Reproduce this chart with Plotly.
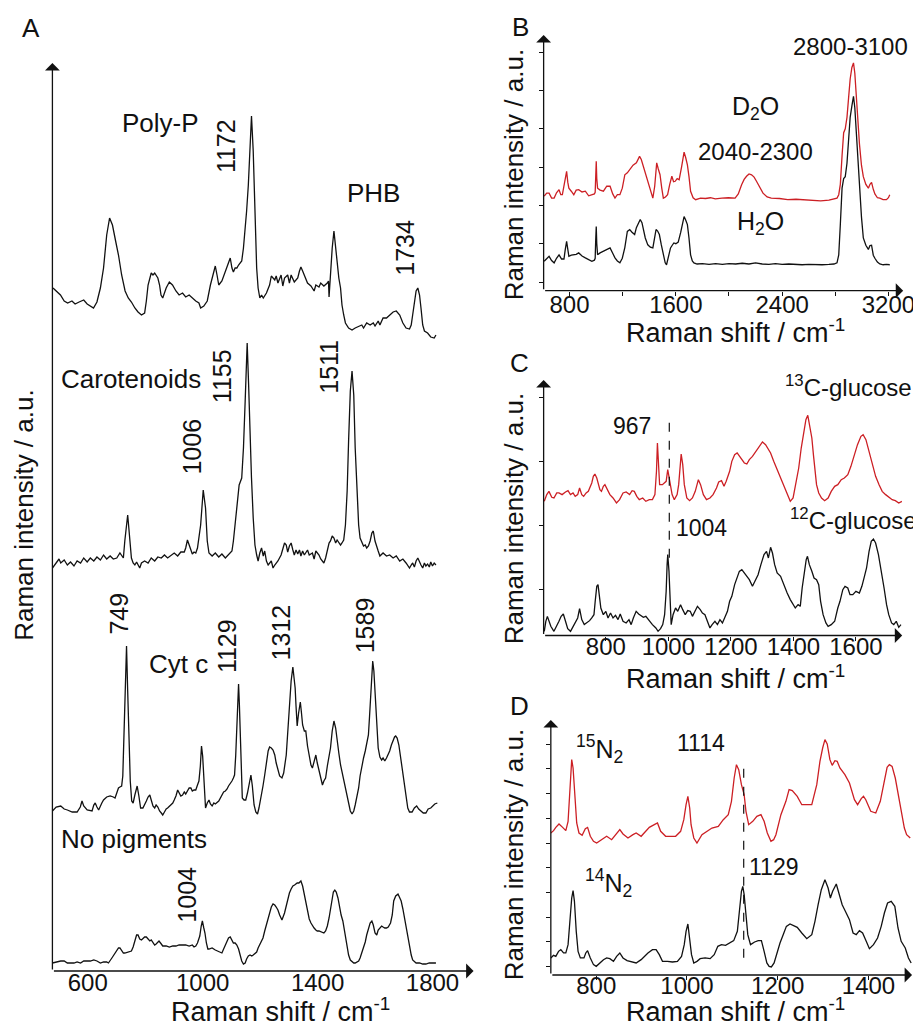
import plotly.graph_objects as go

W, H = 921, 1025
FONT = "Liberation Sans, Arial, sans-serif"
BLACK = "#111111"
RED = "#cc1f24"

# ---------------- Panel A (Raman shift cm-1, intensity a.u., stacked) ----------------
polyp = [(479,68.3),(490,68.0),(505,67.6),(518,67.0),(530,66.8),(545,67.0),(556,66.7),(570,66.9),(586,67.1),(598,66.7),
 (609,66.5),(620,66.3),(632,66.9),(644,68.3),(655,70.3),(666,73.6),(676,75.3),(686,74.6),(697,73.0),(707,71.6),
 (718,69.6),(730,68.0),(741,67.3),(752,66.9),(764,66.3),(775,65.9),(787,65.6),(798,65.8),(804,67.0),(810,68.6),
 (821,69.8),(827,69.6),(833,69.8),(844,69.3),(850,68.6),(855,67.6),(861,67.3),(873,68.3),(884,68.9),(895,68.6),
 (907,68.0),(918,67.6),(930,67.8),(941,67.4),(953,67.6),(964,67.3),(976,67.0),(987,66.8),(993,66.3),(1004,66.5),
 (1016,67.0),(1027,68.6),(1039,69.9),(1044,70.5),(1050,69.6),(1056,68.6),(1067,69.0),(1079,70.0),(1090,70.9),(1096,71.3),
 (1102,70.3),(1107,69.9),(1113,70.3),(1119,70.3),(1125,70.6),(1136,71.0),(1142,72.3),(1148,74.0),(1153,76.0),(1159,78.6),
 (1165,83.0),(1170,85.5),(1176,82.0),(1182,75.0),(1188,70.3),(1193,68.3),(1199,67.3),(1205,67.6),(1211,67.3),(1222,67.8),
 (1233,68.6),(1239,69.5),(1251,69.1),(1256,69.5),(1262,68.8),(1273,69.6),(1279,68.5),(1285,69.3),(1296,69.6),(1302,68.8),
 (1308,69.6),(1319,68.9),(1331,69.3),(1337,70.0),(1342,70.4),(1348,70.0),(1354,69.6),(1365,68.8),(1377,68.5),(1388,68.0),
 (1394,68.6),(1405,68.4),(1411,68.8),(1422,68.5),(1434,68.8),(1438,69.0),(1440,67.4),(1445,70.0),(1451,72.3),(1457,74.0),
 (1463,72.5),(1468,70.6),(1474,69.3),(1480,68.3),(1485,66.6),(1491,65.6),(1497,64.8),(1508,64.3),(1520,64.1),(1531,64.3),
 (1543,64.5),(1554,64.6),(1560,64.3),(1571,64.8),(1583,64.6),(1594,64.8),(1600,64.5),(1611,65.0),(1617,64.6),(1628,65.3),
 (1640,65.3),(1651,65.6),(1663,65.9),(1674,66.0),(1686,65.6),(1697,64.8),(1708,64.3),(1720,64.2),(1726,64.6),(1731,65.6),
 (1737,67.0),(1743,68.0),(1749,68.3),(1755,67.6),(1760,66.3),(1766,64.6),(1772,64.0),(1783,63.8),(1794,63.4),(1806,63.3),(1812,63.6)]

carot = [(477,40.3),(490,40.8),(500,41.2),(506,40.8),(518,41.1),(529,40.6),(540,40.9),(552,40.5),(563,41.0),(575,40.8),
 (586,41.3),(598,40.9),(609,41.3),(621,41.0),(632,41.4),(644,41.1),(655,41.6),(666,41.2),(678,41.5),(689,41.2),
 (701,41.3),(712,41.8),(718,41.6),(724,41.3),(729,43.0),(735,45.0),(739,45.6),(743,44.3),(747,42.6),(752,41.3),
 (758,40.8),(764,40.6),(770,40.9),(781,40.3),(787,40.8),(798,41.0),(810,40.8),(821,41.3),(833,41.0),(844,41.4),
 (856,41.3),(867,41.6),(878,41.3),(890,41.6),(901,41.8),(913,41.5),(924,41.9),(936,41.9),(941,42.3),(947,43.1),
 (953,42.6),(959,42.1),(964,41.7),(970,41.9),(976,41.8),(982,42.3),(993,44.6),(1002,48.1),(1010,46.3),(1016,43.0),
 (1022,41.8),(1033,41.5),(1044,41.8),(1056,41.4),(1067,41.7),(1079,41.3),(1090,41.6),(1102,42.0),(1107,43.0),(1113,44.6),
 (1119,46.3),(1127,48.6),(1136,49.3),(1142,52.3),(1148,57.0),(1155,62.8),(1160,58.6),(1165,53.0),(1170,49.3),(1176,45.3),
 (1182,42.6),(1188,41.6),(1193,41.0),(1199,41.8),(1205,42.3),(1211,41.5),(1216,42.0),(1222,41.0),(1228,40.6),(1239,41.0),
 (1245,40.3),(1251,40.6),(1262,41.0),(1273,41.6),(1285,42.8),(1291,42.6),(1296,41.9),(1302,42.5),(1308,42.8),(1314,42.1),
 (1319,41.6),(1325,42.1),(1331,41.7),(1337,42.1),(1342,41.5),(1348,42.0),(1354,41.6),(1365,42.1),(1371,41.6),(1382,41.8),
 (1388,41.2),(1394,42.0),(1405,41.6),(1411,41.2),(1422,40.8),(1428,41.3),(1434,42.1),(1440,42.8),(1445,43.0),(1451,43.5),
 (1457,43.3),(1463,42.8),(1468,43.1),(1474,42.8),(1480,42.6),(1485,42.8),(1491,43.1),(1497,44.6),(1503,48.0),(1508,53.0),
 (1514,58.0),(1520,60.0),(1526,57.6),(1531,52.3),(1537,47.6),(1543,44.6),(1548,43.3),(1554,42.8),(1560,42.5),(1566,42.6),
 (1571,42.3),(1577,42.5),(1583,43.0),(1589,43.8),(1594,44.0),(1600,43.0),(1606,42.3),(1611,42.0),(1617,41.5),(1628,41.8),
 (1640,41.5),(1651,41.6),(1663,41.3),(1674,41.5),(1686,41.0),(1697,41.2),(1708,40.8),(1714,40.5),(1720,40.3),(1726,40.6),
 (1731,40.8),(1737,40.4),(1743,41.0),(1749,41.3),(1755,40.8),(1760,40.6),(1766,40.3),(1772,40.8),(1777,40.5),(1783,40.7),
 (1789,40.4),(1794,40.9),(1800,40.5),(1806,40.8),(1812,40.6)]

cytc = [(477,16.0),(490,16.4),(506,16.5),(518,16.2),(529,16.1),(546,15.9),(563,15.9),(574,16.4),(580,17.0),(586,16.5),
 (598,16.1),(609,16.0),(615,16.0),(621,16.6),(626,16.8),(632,16.4),(638,16.1),(649,16.8),(655,17.1),(666,17.4),
 (678,17.5),(689,17.4),(695,17.3),(701,17.8),(707,18.3),(712,18.4),(718,18.5),(722,19.5),(726,23.0),(731,28.5),
 (735,32.5),(739,28.0),(743,23.0),(748,19.0),(753,17.0),(758,16.8),(764,17.6),(772,18.5),(778,17.5),(784,16.3),
 (792,16.3),(798,16.6),(804,17.0),(810,17.4),(816,17.6),(821,17.1),(827,16.5),(833,16.3),(838,16.6),(844,16.4),
 (850,16.0),(856,15.8),(861,15.6),(867,15.9),(873,16.2),(878,16.3),(890,16.6),(896,16.8),(901,17.1),(907,17.5),
 (913,18.1),(918,17.8),(924,17.5),(930,17.6),(936,17.9),(941,17.7),(947,18.0),(953,18.3),(959,18.3),(964,18.0),
 (970,18.1),(976,18.1),(982,18.6),(987,19.0),(992,20.5),(996,22.5),(1000,21.5),(1004,19.8),(1007,17.5),(1010,16.3),
 (1016,16.8),(1022,17.1),(1027,16.7),(1033,16.5),(1039,16.8),(1044,16.7),(1056,17.0),(1062,17.3),(1067,17.6),(1073,17.9),
 (1079,18.0),(1085,18.2),(1090,18.5),(1096,18.7),(1102,19.0),(1107,19.3),(1111,19.6),(1115,21.5),(1119,24.6),(1122,27.0),
 (1125,28.7),(1128,26.5),(1130,24.6),(1134,20.5),(1138,17.3),(1144,17.1),(1150,17.1),(1156,17.8),(1162,18.9),(1168,19.6),
 (1173,18.5),(1179,16.6),(1185,15.9),(1191,15.7),(1196,16.3),(1205,17.6),(1210,18.5),(1216,19.6),(1222,20.8),(1228,22.0),
 (1233,22.4),(1239,22.3),(1245,22.1),(1251,21.6),(1256,20.8),(1262,20.0),(1268,19.5),(1276,19.3),(1282,19.8),(1291,21.6),
 (1296,24.0),(1302,27.0),(1308,29.0),(1314,30.4),(1318,29.6),(1322,28.3),(1325,26.5),(1329,24.5),(1334,25.8),(1340,26.9),
 (1344,25.8),(1348,24.6),(1354,24.0),(1359,24.0),(1365,22.5),(1371,21.3),(1377,20.6),(1382,20.3),(1388,21.0),(1394,21.6),
 (1399,20.8),(1405,20.0),(1411,19.2),(1417,18.6),(1422,19.0),(1428,19.3),(1434,20.5),(1440,21.5),(1445,22.3),(1451,24.0),
 (1457,25.0),(1463,24.3),(1468,23.0),(1474,21.8),(1480,20.6),(1486,19.8),(1491,19.0),(1497,18.3),(1503,17.3),(1508,16.6),
 (1514,16.0),(1520,15.7),(1526,16.0),(1531,16.6),(1537,17.3),(1543,18.3),(1548,19.5),(1554,20.6),(1560,21.3),(1566,22.0),
 (1571,22.8),(1577,23.6),(1581,25.5),(1585,28.0),(1589,30.0),(1592,31.0),(1596,30.0),(1600,28.0),(1605,25.0),(1611,22.3),
 (1617,21.4),(1623,21.1),(1628,21.3),(1634,21.0),(1640,21.3),(1646,21.6),(1651,22.0),(1657,22.6),(1663,23.1),(1668,23.4),
 (1672,23.5),(1677,23.3),(1683,22.6),(1688,21.6),(1694,20.3),(1700,19.0),(1706,17.5),(1714,16.3),(1720,15.9),(1729,15.9),
 (1737,16.3),(1745,16.5),(1752,16.2),(1760,16.0),(1768,15.8),(1777,15.8),(1785,16.2),(1794,16.3),(1800,16.5),(1808,16.7),(1817,16.8)]

nopig = [(477,0.8),(490,0.9),(506,1.0),(518,1.0),(529,0.8),(540,0.8),(552,0.8),(563,0.9),(575,0.8),(586,1.0),
 (598,1.0),(609,1.0),(621,1.1),(632,1.0),(644,0.8),(655,0.9),(666,0.9),(672,0.8),(684,1.3),(695,1.8),
 (701,2.1),(707,2.3),(712,2.3),(718,2.0),(724,1.8),(729,1.8),(741,1.9),(752,2.0),(758,2.4),(764,3.0),
 (770,3.6),(775,3.6),(781,3.2),(787,3.1),(793,3.3),(798,3.4),(804,3.4),(810,3.2),(816,3.0),(821,3.1),
 (827,2.9),(833,2.6),(838,2.7),(844,2.9),(848,3.0),(856,2.7),(861,2.5),(873,2.5),(884,2.4),(896,2.5),
 (907,2.5),(918,2.6),(930,2.6),(941,2.6),(953,2.5),(964,2.6),(970,2.4),(976,2.5),(982,2.8),(990,3.5),
 (995,4.5),(999,5.0),(1004,4.3),(1008,3.8),(1013,2.8),(1018,2.2),(1022,2.2),(1033,2.3),(1044,2.1),(1056,1.9),
 (1067,1.8),(1073,2.2),(1079,2.6),(1085,3.0),(1090,3.3),(1096,3.4),(1102,3.1),(1107,2.8),(1113,2.8),(1119,2.6),
 (1125,2.2),(1130,1.6),(1136,1.0),(1142,0.7),(1148,0.8),(1153,1.2),(1159,1.5),(1165,1.6),(1171,1.5),(1176,1.6),
 (1182,1.8),(1188,1.9),(1193,2.3),(1199,2.7),(1205,3.0),(1210,3.3),(1216,4.0),(1222,4.7),(1228,5.3),(1233,5.9),
 (1239,6.4),(1245,6.7),(1251,6.6),(1256,6.4),(1262,6.1),(1268,5.6),(1276,5.1),(1285,5.8),(1291,6.6),(1296,7.2),
 (1302,7.8),(1308,8.2),(1314,8.5),(1320,8.6),(1325,8.7),(1329,8.8),(1335,8.8),(1342,9.0),(1348,8.5),(1354,7.6),
 (1359,6.8),(1365,5.8),(1371,5.2),(1377,4.8),(1382,4.5),(1388,4.3),(1394,4.1),(1399,4.0),(1405,4.0),(1411,3.9),
 (1417,3.8),(1422,3.8),(1428,4.0),(1434,4.5),(1440,5.3),(1445,6.3),(1451,7.3),(1455,7.9),(1460,8.1),(1465,7.9),
 (1471,7.3),(1477,6.3),(1482,5.6),(1488,5.0),(1493,4.1),(1499,3.0),(1503,2.2),(1508,1.6),(1514,1.1),(1520,0.9),
 (1526,0.8),(1531,0.8),(1537,0.9),(1543,1.0),(1548,1.3),(1554,1.8),(1560,2.3),(1566,2.9),(1571,3.6),(1577,4.3),
 (1583,4.8),(1589,5.0),(1594,4.6),(1600,3.8),(1606,3.6),(1611,4.1),(1617,4.3),(1623,4.5),(1628,4.4),(1634,4.3),
 (1640,4.3),(1646,4.4),(1654,4.8),(1660,5.6),(1665,7.0),(1672,7.5),(1680,7.7),(1686,7.4),(1691,7.0),(1697,6.2),
 (1703,5.2),(1708,4.3),(1714,3.2),(1720,2.2),(1726,1.6),(1731,1.1),(1737,0.9),(1743,0.8),(1755,0.8),(1766,0.7),
 (1777,0.7),(1789,0.8),(1800,0.8),(1812,0.8)]

# ---------------- Panel B ----------------
d2o = [(609,2.24),(628,2.32),(646,2.32),(665,2.19),(684,2.19),(702,2.33),(721,2.41),(734,2.28),(746,2.28),(762,2.60),
 (778,2.89),(787,2.60),(795,2.45),(813,2.37),(832,2.28),(850,2.40),(869,2.41),(894,2.35),(919,2.37),(944,2.25),
 (968,2.28),(987,2.30),(993,2.34),(997,2.80),(1001,3.15),(1005,2.70),(1011,2.45),(1030,2.40),(1055,2.37),(1080,2.50),
 (1105,2.50),(1125,2.30),(1142,2.19),(1160,2.28),(1179,2.28),(1197,2.45),(1216,2.80),(1235,2.85),(1253,2.93),(1278,3.05),
 (1303,3.11),(1327,3.28),(1340,3.20),(1352,3.06),(1370,2.80),(1389,2.58),(1408,2.35),(1427,2.19),(1441,2.50),(1456,3.11),
 (1468,2.95),(1481,2.80),(1494,2.45),(1506,2.19),(1522,2.22),(1538,2.28),(1554,2.55),(1570,2.76),(1583,2.62),(1595,2.63),
 (1610,2.70),(1625,2.67),(1643,3.00),(1662,3.39),(1674,3.25),(1687,3.06),(1699,2.75),(1711,2.37),(1730,2.20),(1749,2.15),
 (1786,2.19),(1823,2.18),(1860,2.20),(1897,2.17),(1947,2.19),(1996,2.20),(2046,2.19),(2070,2.30),(2095,2.54),(2114,2.68),
 (2132,2.76),(2151,2.82),(2170,2.80),(2189,2.74),(2207,2.63),(2232,2.45),(2256,2.32),(2287,2.22),(2318,2.19),(2380,2.18),
 (2442,2.15),(2504,2.16),(2566,2.15),(2628,2.14),(2690,2.12),(2752,2.14),(2813,2.19),(2826,2.28),(2838,2.55),(2851,3.30),
 (2863,3.90),(2875,4.00),(2888,4.30),(2900,4.80),(2912,5.30),(2925,5.60),(2937,5.72),(2947,5.45),(2957,4.90),(2970,4.10),
 (2982,3.60),(2997,3.05),(3011,2.75),(3030,2.55),(3049,2.45),(3061,2.55),(3073,2.60),(3086,2.42),(3098,2.30),(3117,2.20),
 (3135,2.19),(3160,2.15),(3185,2.15),(3200,2.20),(3210,2.28)]

h2o = [(609,0.54),(628,0.62),(646,0.67),(665,0.56),(684,0.50),(702,0.62),(721,0.71),(740,0.60),(758,0.60),(768,0.85),
 (778,1.06),(787,0.85),(795,0.67),(813,0.70),(832,0.71),(850,0.72),(869,0.76),(894,0.68),(919,0.63),(944,0.58),
 (968,0.54),(987,0.57),(993,0.62),(997,1.10),(1001,1.45),(1005,1.00),(1011,0.71),(1030,0.76),(1055,0.80),(1080,0.84),
 (1105,0.89),(1125,0.75),(1142,0.63),(1160,0.55),(1179,0.50),(1197,0.62),(1216,0.90),(1235,1.32),(1253,1.37),(1270,1.30),
 (1290,1.24),(1303,1.42),(1318,1.54),(1332,1.63),(1345,1.55),(1352,1.41),(1370,1.15),(1389,0.97),(1408,0.91),(1427,0.89),
 (1441,1.15),(1451,1.37),(1463,1.33),(1476,1.24),(1490,0.98),(1506,0.71),(1520,0.50),(1530,0.45),(1545,0.70),(1560,0.89),
 (1573,0.96),(1585,1.02),(1600,1.00),(1618,1.04),(1637,1.30),(1650,1.55),(1662,1.71),(1674,1.62),(1687,1.50),(1699,1.15),
 (1711,0.71),(1724,0.55),(1736,0.50),(1760,0.47),(1800,0.48),(1850,0.46),(1900,0.48),(1950,0.46),(2000,0.48),(2050,0.47),
 (2100,0.49),(2150,0.47),(2200,0.50),(2250,0.47),(2300,0.46),(2350,0.48),(2400,0.46),(2450,0.47),(2500,0.46),(2550,0.45),
 (2600,0.46),(2650,0.45),(2700,0.45),(2752,0.46),(2790,0.47),(2813,0.50),(2826,0.71),(2838,1.50),(2851,2.45),(2863,2.70),
 (2875,2.75),(2888,3.10),(2900,3.80),(2912,4.30),(2925,4.60),(2937,4.85),(2947,4.55),(2957,4.00),(2970,3.10),(2982,2.37),
 (2997,1.70),(3011,1.15),(3030,0.96),(3049,0.85),(3061,0.95),(3073,0.96),(3086,0.70),(3098,0.62),(3117,0.52),(3135,0.47),
 (3160,0.45),(3185,0.46),(3210,0.45)]

# ---------------- Panel C ----------------
c13 = [(603,2.379),(611,2.483),(618,2.534),(627,2.441),(634,2.431),(643,2.509),(650,2.509),(660,2.483),(671,2.524),(679,2.545),
 (687,2.483),(695,2.509),(702,2.457),(710,2.483),(716,2.586),(723,2.483),(729,2.457),(737,2.509),(744,2.534),(750,2.612),
 (755,2.664),(760,2.768),(765,2.804),(771,2.742),(776,2.638),(781,2.560),(786,2.534),(792,2.612),(797,2.638),(804,2.560),
 (813,2.483),(823,2.431),(834,2.353),(844,2.405),(855,2.509),(865,2.524),(876,2.483),(884,2.545),(891,2.534),(899,2.457),
 (907,2.405),(918,2.431),(928,2.379),(939,2.405),(949,2.405),(957,2.483),(962,2.846),(965,3.286),(968,2.949),(972,2.638),
 (981,2.638),(988,2.664),(993,2.690),(998,2.871),(1005,2.690),(1012,2.483),(1019,2.405),(1028,2.483),(1033,2.638),(1037,2.949),
 (1041,3.115),(1046,2.949),(1051,2.638),(1059,2.431),(1068,2.389),(1077,2.431),(1086,2.534),(1096,2.716),(1103,2.638),(1112,2.483),
 (1122,2.405),(1133,2.431),(1143,2.483),(1154,2.586),(1161,2.680),(1170,2.700),(1178,2.612),(1185,2.690),(1196,2.846),(1203,3.001),
 (1212,3.105),(1220,3.131),(1227,3.079),(1235,3.027),(1243,2.975),(1251,2.960),(1259,3.027),(1269,3.079),(1280,3.157),(1290,3.219),
 (1301,3.302),(1311,3.260),(1318,3.208),(1327,3.131),(1337,3.001),(1348,2.871),(1359,2.742),(1369,2.638),(1380,2.509),(1390,2.379),
 (1399,2.431),(1406,2.612),(1417,2.897),(1425,3.208),(1432,3.442),(1440,3.649),(1446,3.716),(1451,3.597),(1459,3.364),(1464,3.105),
 (1469,2.846),(1474,2.638),(1481,2.509),(1490,2.431),(1500,2.389),(1511,2.431),(1521,2.534),(1532,2.612),(1542,2.638),(1553,2.716),
 (1563,2.742),(1574,2.794),(1584,2.923),(1595,3.105),(1605,3.260),(1616,3.390),(1623,3.416),(1632,3.338),(1642,3.157),(1653,2.949),
 (1663,2.768),(1674,2.638),(1684,2.534),(1695,2.483),(1705,2.441),(1716,2.405),(1726,2.389),(1737,2.353),(1747,2.379)]

c12 = [(603,0.357),(608,0.513),(613,0.590),(618,0.513),(624,0.435),(634,0.357),(643,0.435),(650,0.513),(657,0.590),(664,0.627),
 (671,0.513),(678,0.399),(687,0.357),(695,0.435),(702,0.487),(710,0.565),(716,0.710),(723,0.539),(731,0.461),(739,0.487),
 (748,0.523),(755,0.565),(762,0.616),(766,0.824),(771,1.057),(775,1.083),(779,0.927),(784,0.720),(792,0.616),(800,0.668),
 (807,0.565),(815,0.642),(823,0.565),(831,0.606),(839,0.539),(846,0.627),(855,0.513),(865,0.487),(874,0.539),(881,0.461),
 (888,0.565),(897,0.668),(905,0.627),(912,0.606),(920,0.575),(928,0.590),(939,0.513),(949,0.461),(960,0.409),(967,0.357),
 (975,0.399),(982,0.461),(988,0.616),(993,0.979),(996,1.394),(998,1.550),(1002,1.290),(1005,0.824),(1009,0.461),(1015,0.616),
 (1023,0.720),(1030,0.668),(1039,0.772),(1046,0.694),(1054,0.616),(1062,0.679),(1070,0.668),(1077,0.590),(1086,0.694),(1093,0.746),
 (1102,0.694),(1109,0.642),(1117,0.616),(1126,0.513),(1133,0.409),(1140,0.461),(1149,0.513),(1157,0.461),(1165,0.539),(1173,0.487),
 (1180,0.565),(1189,0.668),(1196,0.824),(1203,0.902),(1212,1.083),(1220,1.213),(1227,1.290),(1235,1.316),(1243,1.264),(1251,1.213),
 (1259,1.161),(1269,1.057),(1278,1.161),(1287,1.238),(1296,1.394),(1306,1.550),(1314,1.601),(1320,1.498),(1327,1.664),(1333,1.575),
 (1340,1.394),(1348,1.264),(1359,1.213),(1369,1.083),(1380,0.953),(1390,0.850),(1399,0.772),(1406,0.720),(1415,0.772),(1422,0.746),
 (1428,1.031),(1435,1.290),(1441,1.472),(1445,1.524),(1451,1.394),(1459,1.290),(1466,1.187),(1474,1.161),(1481,1.083),(1487,0.824),
 (1495,0.616),(1504,0.487),(1511,0.435),(1521,0.461),(1532,0.513),(1542,0.720),(1549,0.824),(1558,1.005),(1565,1.057),(1574,1.031),
 (1581,0.927),(1590,0.927),(1600,0.979),(1611,0.953),(1619,1.057),(1626,1.187),(1634,1.342),(1642,1.601),(1649,1.757),(1656,1.793),
 (1663,1.731),(1672,1.550),(1680,1.342),(1690,1.031),(1698,0.772),(1705,0.616),(1714,0.487),(1721,0.461),(1729,0.513),(1737,0.419),(1744,0.461)]

# ---------------- Panel D ----------------
n15 = [(700,2.202),(706,2.249),(711,2.316),(718,2.384),(726,2.316),(733,2.249),(738,2.438),(742,2.976),(746,3.684),(749,3.515),
 (753,2.909),(757,2.404),(762,2.202),(769,2.155),(776,2.290),(781,2.316),(787,2.135),(794,2.034),(801,2.000),(812,2.067),
 (823,2.135),(834,2.067),(845,2.202),(852,2.269),(859,2.182),(870,2.101),(881,2.168),(888,2.202),(899,2.135),(910,2.236),
 (917,2.316),(928,2.370),(935,2.404),(942,2.236),(953,2.135),(964,2.135),(975,2.135),(986,2.236),(993,2.471),(998,2.774),
 (1002,2.943),(1006,2.707),(1009,2.370),(1015,2.101),(1022,2.000),(1033,2.168),(1044,2.236),(1055,2.303),(1069,2.337),(1080,2.471),
 (1091,2.572),(1098,2.842),(1104,3.313),(1109,3.582),(1114,3.481),(1120,3.178),(1126,2.976),(1130,2.640),(1136,2.370),(1145,2.438),
 (1154,2.539),(1163,2.572),(1170,2.438),(1177,2.202),(1185,2.034),(1191,2.067),(1196,2.168),(1207,2.572),(1218,2.842),(1225,3.077),
 (1232,3.057),(1243,2.943),(1253,2.774),(1264,2.774),(1275,2.774),(1286,3.178),(1293,3.650),(1299,3.919),(1304,4.088),(1309,4.000),
 (1315,3.684),(1320,3.569),(1326,3.663),(1331,3.650),(1337,3.515),(1348,3.380),(1358,3.212),(1369,2.875),(1376,2.774),(1384,2.896),
 (1389,2.943),(1394,2.875),(1405,2.640),(1416,2.606),(1426,2.842),(1434,3.212),(1441,3.529),(1446,3.582),(1452,3.549),(1459,3.313),
 (1466,2.976),(1474,2.572),(1479,2.303),(1484,2.168),(1492,2.101)]

n14 = [(700,-0.323),(706,-0.269),(711,-0.290),(717,-0.189),(722,-0.155),(728,-0.222),(733,-0.222),(738,-0.054),(742,0.418),(746,0.889),
 (749,1.037),(752,0.822),(756,0.215),(760,-0.189),(765,-0.323),(773,-0.323),(777,-0.222),(781,-0.175),(787,-0.323),(794,-0.458),
 (800,-0.492),(807,-0.424),(816,-0.357),(823,-0.323),(830,-0.337),(838,-0.391),(845,-0.290),(852,-0.222),(859,-0.323),(868,-0.377),
 (877,-0.404),(888,-0.424),(899,-0.357),(906,-0.290),(914,-0.222),(924,-0.155),(932,-0.155),(939,-0.256),(946,-0.391),(957,-0.391),
 (968,-0.404),(979,-0.391),(988,-0.290),(994,-0.054),(998,0.215),(1002,0.364),(1005,0.148),(1010,-0.256),(1015,-0.424),(1022,-0.391),
 (1029,-0.337),(1040,-0.323),(1051,-0.337),(1060,-0.256),(1068,-0.088),(1076,-0.054),(1085,-0.067),(1094,-0.020),(1103,0.027),(1111,0.215),
 (1116,0.687),(1120,1.024),(1123,1.125),(1126,0.956),(1130,0.552),(1134,0.148),(1140,-0.054),(1149,0.000),(1157,0.027),(1164,0.027),
 (1170,-0.189),(1176,-0.424),(1181,-0.492),(1186,-0.505),(1192,-0.424),(1198,-0.222),(1205,-0.020),(1212,0.148),(1219,0.316),(1227,0.364),
 (1235,0.337),(1243,0.296),(1253,0.182),(1264,0.067),(1275,0.148),(1282,0.418),(1289,0.754),(1296,1.057),(1304,1.259),(1311,1.091),
 (1316,0.889),(1321,1.024),(1329,1.172),(1334,1.024),(1342,0.754),(1349,0.620),(1358,0.451),(1366,0.182),(1373,0.148),(1380,0.229),
 (1387,0.182),(1395,0.013),(1402,-0.135),(1411,-0.054),(1420,0.081),(1428,0.316),(1435,0.586),(1442,0.788),(1450,0.822),(1458,0.721),
 (1465,0.283),(1472,0.013),(1481,-0.121),(1488,-0.323),(1494,-0.424)]

# dashed guide lines: (Raman shift, y from, y to)
C_GUIDE = (1003, 1.50, 3.60)
D_GUIDE = (1125, -0.32, 3.56)

A_XTICKS = [600, 1000, 1400, 1800]
C_XTICKS = [800, 1000, 1200, 1400, 1600]
D_XTICKS = [800, 1000, 1200, 1400]

fig = go.Figure()


def add(data, color, xa, ya):
    xs, ys = zip(*data)
    fig.add_trace(go.Scatter(x=list(xs), y=list(ys), mode="lines",
                             line=dict(color=color, width=1.3),
                             xaxis=xa, yaxis=ya, showlegend=False, hoverinfo="skip"))


add(polyp, BLACK, "x", "y")
add(carot, BLACK, "x", "y")
add(cytc, BLACK, "x", "y")
add(nopig, BLACK, "x", "y")
add(d2o, RED, "x2", "y2")
add(h2o, BLACK, "x2", "y2")
add(c13, RED, "x3", "y3")
add(c12, BLACK, "x3", "y3")
add(n15, RED, "x4", "y4")
add(n14, BLACK, "x4", "y4")


def dom_x(a, b):
    return [a / W, b / W]


def dom_y(top, bottom):
    return [1 - bottom / H, 1 - top / H]


tickfont = dict(family=FONT, size=24, color=BLACK)
common = dict(showgrid=False, zeroline=False, showline=False, tickfont=tickfont,
              ticks="outside", tickcolor=BLACK, tickwidth=1.2)

AX = dict(x=[477, 1943], y=[0, 90.8])
BX = dict(x=[605, 3311], y=[-0.227, 6.449])
CX = dict(x=[601, 1748], y=[0.292, 4.266])
DX = dict(x=[700, 1496], y=[-0.667, 4.485])

fig.update_layout(
    width=W, height=H, margin=dict(l=0, r=0, t=0, b=0),
    paper_bgcolor="white", plot_bgcolor="white",
    xaxis=dict(domain=dom_x(45, 471.7), range=AX["x"], anchor="y", tickvals=A_XTICKS, ticklen=0,
               ticklabelstandoff=-10, **common),
    yaxis=dict(domain=dom_y(55, 963), range=AX["y"], anchor="x", showticklabels=False, ticklen=0, **common),
    xaxis2=dict(domain=dom_x(542.7, 907), range=BX["x"], anchor="y2", tick0=0, dtick=800, ticklen=4,
                ticklabelstandoff=-12,
                minor=dict(dtick=400, ticklen=4, ticks="outside", tickcolor=BLACK), **common),
    yaxis2=dict(domain=dom_y(27, 282.7), range=BX["y"], anchor="x2", tick0=0, dtick=1, ticklen=4,
                showticklabels=False, **common),
    xaxis3=dict(domain=dom_x(542.7, 906), range=CX["x"], anchor="y3", tickvals=C_XTICKS, ticklen=4,
                ticklabelstandoff=-14, **common),
    yaxis3=dict(domain=dom_y(372, 627.5), range=CX["y"], anchor="x3", tick0=0, dtick=1, ticklen=4,
                showticklabels=False, **common),
    xaxis4=dict(domain=dom_x(550, 916), range=DX["x"], anchor="y4", tickvals=D_XTICKS, ticklen=4,
                ticklabelstandoff=-15, **common),
    yaxis4=dict(domain=dom_y(712, 967), range=DX["y"], anchor="x4", tick0=0, dtick=0.5, ticklen=4,
                showticklabels=False, **common),
)

anns = []


def arrow(xr, yr, x0, y0, x1, y1):
    anns.append(dict(x=x1, y=y1, ax=x0, ay=y0, xref=xr, yref=yr, axref=xr, ayref=yr,
                     showarrow=True, arrowhead=1, arrowsize=1.9, arrowwidth=1.3,
                     arrowcolor=BLACK, text="", standoff=0))


for xr, yr, R in [("x", "y", AX), ("x2", "y2", BX), ("x3", "y3", CX), ("x4", "y4", DX)]:
    arrow(xr, yr, R["x"][0], R["y"][0], R["x"][1], R["y"][0])
    arrow(xr, yr, R["x"][0], R["y"][0], R["x"][0], R["y"][1])

# glyphs sit a few px below/right of the annotation box centre; compensate
DY = 7
DXR = 6


def txt(text, x, y, size=24):
    anns.append(dict(text=text, x=x / W, y=1 - (y - DY) / H, xref="paper", yref="paper", showarrow=False,
                     font=dict(family=FONT, size=size, color=BLACK),
                     xanchor="center", yanchor="middle"))


def bottom_txt(text, x, size=27):
    # text box resting just above the bottom edge of the figure
    anns.append(dict(text=text, x=x / W, y=5 / H, xref="paper", yref="paper", showarrow=False,
                     font=dict(family=FONT, size=size, color=BLACK), borderpad=0,
                     xanchor="center", yanchor="bottom"))


def vtxt(text, x, y, size=25):
    anns.append(dict(text=text, x=(x - DXR) / W, y=1 - y / H, xref="paper", yref="paper", showarrow=False,
                     font=dict(family=FONT, size=size, color=BLACK), textangle=-90,
                     xanchor="center", yanchor="middle"))


XT = "Raman shift / cm<sup>-1</sup>"
YT = "Raman intensity / a.u."
# panel A
txt("A", 23, 27, 26)
bottom_txt(XT, 276)
vtxt(YT, 22, 507, 26)
txt("Poly-P", 155, 122, 26)
vtxt("1172", 227, 138)
txt("PHB", 370, 192, 26)
vtxt("1734", 408, 240)
txt("Carotenoids", 125, 378, 26)
vtxt("1006", 192, 439)
vtxt("1155", 223, 368)
vtxt("1511", 331, 359)
vtxt("749", 118, 606)
txt("Cyt c", 173, 663, 26)
vtxt("1129", 228, 638)
vtxt("1312", 283, 624)
vtxt("1589", 368, 617)
txt("No pigments", 128, 838, 26)
vtxt("1004", 187, 887)
# panel B
txt("B", 519, 26, 26)
txt(XT, 737, 330, 27)
vtxt(YT, 519, 167, 26)
txt("2800-3100", 854, 45, 24)
txt("D<sub>2</sub>O", 757, 107, 25)
txt("2040-2300", 757, 150, 24)
txt("H<sub>2</sub>O", 762, 222, 25)
# panel C
txt("C", 518, 362, 26)
txt(XT, 737, 676, 27)
vtxt(YT, 519, 511, 26)
txt("<sup>13</sup>C-glucose", 852, 385, 24)
txt("967", 632, 425, 23)
txt("<sup>12</sup>C-glucose", 857, 518, 24)
txt("1004", 703, 527, 23)
# panel D
txt("D", 518, 705, 26)
bottom_txt(XT, 737)
vtxt(YT, 519, 847, 26)
txt("<sup>15</sup>N<sub>2</sub>", 599, 748, 25)
txt("1114", 702, 742, 23)
txt("1129", 776, 866, 23)
txt("<sup>14</sup>N<sub>2</sub>", 608, 882, 25)

fig.update_layout(annotations=anns)

for xr, yr, (gx, g0, g1) in [("x3", "y3", C_GUIDE), ("x4", "y4", D_GUIDE)]:
    fig.add_shape(type="line", xref=xr, yref=yr, x0=gx, x1=gx, y0=g0, y1=g1,
                  line=dict(color=BLACK, width=1.2, dash="dash"))

fig.write_html("out.html")
